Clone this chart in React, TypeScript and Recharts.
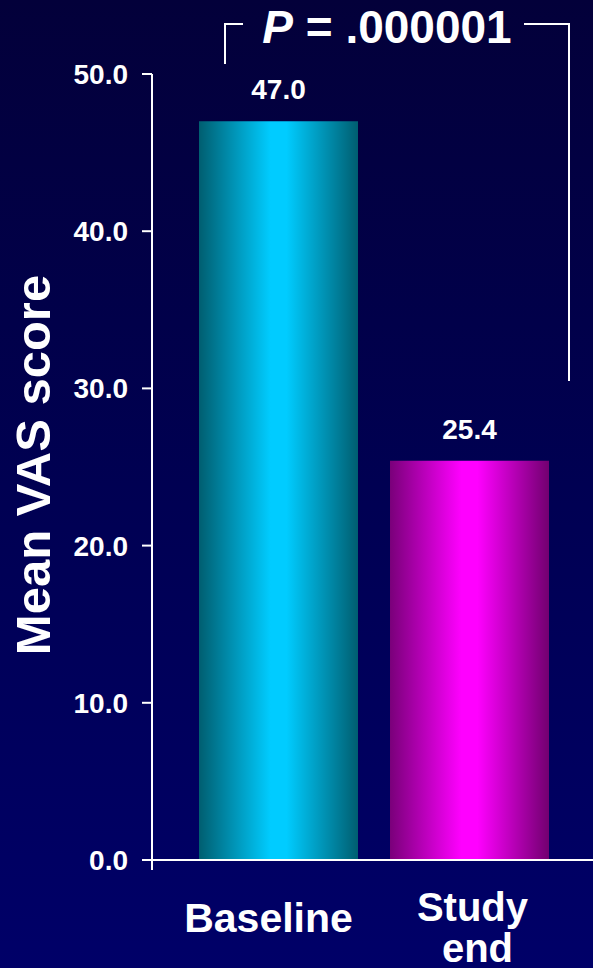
import React from 'react';
import { BarChart, Bar, XAxis, YAxis, Cell, LabelList, Customized } from 'recharts';

const categories = ['Baseline', 'Study\nend'];
const meanScores = [47.0, 25.4];
const yTicks = [0, 10, 20, 30, 40, 50];
const pLabel = '.000001';

const FONT = '"Liberation Sans", Arial, Helvetica, sans-serif';
const gradIds = ['gradBaseline', 'gradStudyEnd'];

// small hand nudges so the category text sits where the original slide had it
const xLabelNudge: number[][] = [[-10], [3, 8]];

const data = categories.map((name, i) => ({ name, value: meanScores[i] }));

const YTick = (props: any) => {
    const { x, y, payload } = props;
    const axisX = x + 24;
    return (
        <g>
            <text x={x} y={y + 10} textAnchor="end" fill="#fff" fontSize={28} fontWeight="bold" fontFamily={FONT}>
                {Number(payload.value).toFixed(1)}
            </text>
            {payload.value === 0 && <line x1={axisX} x2={axisX} y1={y} y2={y + 10} stroke="#fff" strokeWidth={2} />}
        </g>
    );
};

const XTick = (props: any) => {
    const { x, y, payload, index } = props;
    const lines = String(payload.value).split('\n');
    const first = lines.length === 1 ? 72 : 61;
    return (
        <g>
            {lines.map((ln, i) => (
                <text
                    key={i}
                    x={x + (xLabelNudge[index]?.[i] ?? 0)}
                    y={y + first + i * 41}
                    textAnchor="middle"
                    fill="#fff"
                    fontSize={lines.length === 1 ? 41 : 40}
                    fontWeight="bold"
                    fontFamily={FONT}
                >
                    {ln}
                </text>
            ))}
        </g>
    );
};

const AxisTitle = (props: any) => {
    const vb = props.viewBox || {};
    const cx = vb.x - 22;
    const cy = vb.y + vb.height / 2 - 2;
    return (
        <text
            x={cx}
            y={cy}
            transform={`rotate(-90, ${cx}, ${cy})`}
            textAnchor="middle"
            fill="#fff"
            fontSize={49}
            fontWeight="bold"
            fontFamily={FONT}
        >
            Mean VAS score
        </text>
    );
};

const ValueLabel = (props: any) => {
    const { x, y, width, value } = props;
    return (
        <text x={x + width / 2} y={y - 22} textAnchor="middle" fill="#fff" fontSize={28} fontWeight="bold" fontFamily={FONT}>
            {Number(value).toFixed(1)}
        </text>
    );
};

// significance bracket drawn above the plot
const Bracket = () => (
    <g stroke="#fff" strokeWidth={2} fill="none">
        <polyline points="243,24 225,24 225,64" />
        <polyline points="524,24 569,24 569,381" />
        <text x={387} y={43} textAnchor="middle" fill="#fff" stroke="none" fontSize={46} fontWeight="bold" fontFamily={FONT}>
            <tspan fontStyle="italic">P</tspan> = {pLabel}
        </text>
    </g>
);

const App: React.FC = () => {
    return (
        <div
            style={{
                position: 'fixed',
                left: 0,
                top: 0,
                width: 593,
                height: 968,
                background: 'linear-gradient(to bottom, #03003a 0%, #000052 50%, #000068 100%)',
            }}
        >
            <BarChart width={593} height={968} data={data} margin={{ top: 74, right: 0, bottom: 0, left: 72 }}>
                <defs>
                    <linearGradient id="gradBaseline" x1="0" y1="0" x2="1" y2="0">
                        <stop offset="0%" stopColor="#005e70" />
                        <stop offset="45%" stopColor="#00ccff" />
                        <stop offset="55%" stopColor="#00ccff" />
                        <stop offset="100%" stopColor="#005e70" />
                    </linearGradient>
                    <linearGradient id="gradStudyEnd" x1="0" y1="0" x2="1" y2="0">
                        <stop offset="0%" stopColor="#7a007a" />
                        <stop offset="45%" stopColor="#ff00ff" />
                        <stop offset="55%" stopColor="#ff00ff" />
                        <stop offset="100%" stopColor="#720070" />
                    </linearGradient>
                </defs>
                <XAxis
                    dataKey="name"
                    padding={{ left: 31, right: 28 }}
                    axisLine={{ stroke: '#fff', strokeWidth: 2 }}
                    tickLine={false}
                    tickSize={0}
                    tickMargin={0}
                    tick={<XTick />}
                    interval={0}
                    height={108}
                />
                <YAxis
                    domain={[0, 50]}
                    ticks={yTicks}
                    width={80}
                    axisLine={{ stroke: '#fff', strokeWidth: 2 }}
                    tickLine={{ stroke: '#fff', strokeWidth: 2 }}
                    tickSize={10}
                    tickMargin={14}
                    tick={<YTick />}
                    label={<AxisTitle />}
                />
                <Bar dataKey="value" barSize={159} isAnimationActive={false}>
                    {data.map((d, i) => (
                        <Cell key={d.name} fill={`url(#${gradIds[i]})`} />
                    ))}
                    <LabelList dataKey="value" content={<ValueLabel />} />
                </Bar>
                <Customized component={<Bracket />} />
            </BarChart>
        </div>
    );
};

export default App;
